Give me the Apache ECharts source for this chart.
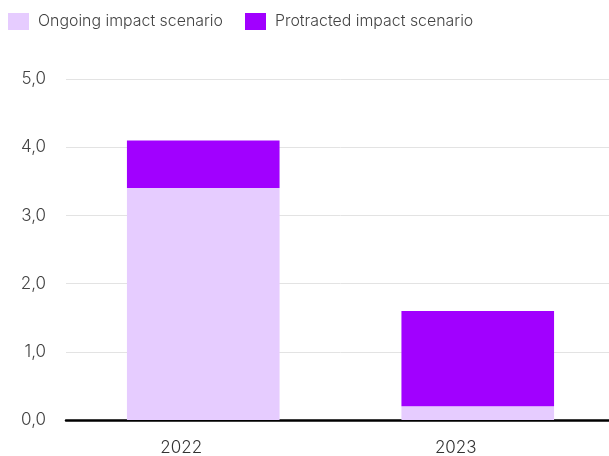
<!DOCTYPE html>
<html><head><meta charset="utf-8">
<script src="https://cdn.jsdelivr.net/npm/echarts@6/dist/echarts.min.js"></script>
<style>html,body{margin:0;padding:0;background:#fff;overflow:hidden}#c{width:615px;height:456px}</style>
</head><body><div id="c"></div>
<script>
var categories = ['2022', '2023'];
var ongoing = [3.4, 0.2];
var protracted = [0.7, 1.4];
var seriesNames = ['Ongoing impact scenario', 'Protracted impact scenario'];
var yTicks = { min: 0, max: 5, interval: 1 };

var chart = echarts.init(document.getElementById('c'));
chart.setOption({
  animation: false,
  textStyle: { fontFamily: 'Inter, Roboto, sans-serif' },
  legend: {
    left: 3, top: 8,
    itemWidth: 21, itemHeight: 17, itemGap: 22,
    icon: 'rect',
    textStyle: { fontSize: 15.9, color: '#444', fontFamily: 'Inter', fontWeight: 300, padding: [0, 0, 0, 4] },
    data: seriesNames
  },
  grid: { left: 66, right: 0, top: 79, bottom: 36 },
  xAxis: {
    type: 'category', data: categories,
    axisLine: { lineStyle: { color: '#000', width: 2.5 } },
    axisTick: { show: false },
    axisLabel: { fontSize: 17, color: '#333', fontWeight: 300, margin: 19, padding: [0, 44, 0, 0] }
  },
  yAxis: {
    type: 'value', min: yTicks.min, max: yTicks.max, interval: yTicks.interval,
    axisLabel: { fontSize: 17, color: '#444', fontWeight: 300, margin: 20, formatter: function(v){ return v.toFixed(1).replace('.', ','); } },
    splitLine: { lineStyle: { color: '#e3e3e3', width: 1 } },
    axisLine: { show: false }, axisTick: { show: false }
  },
  series: [
    { name: seriesNames[0], type: 'bar', stack: 's', data: ongoing, barWidth: '55.6%', itemStyle: { color: '#E6CCFF' } },
    { name: seriesNames[1], type: 'bar', stack: 's', data: protracted, barWidth: '55.6%', itemStyle: { color: '#A100FF' } }
  ]
});
</script></body></html>
